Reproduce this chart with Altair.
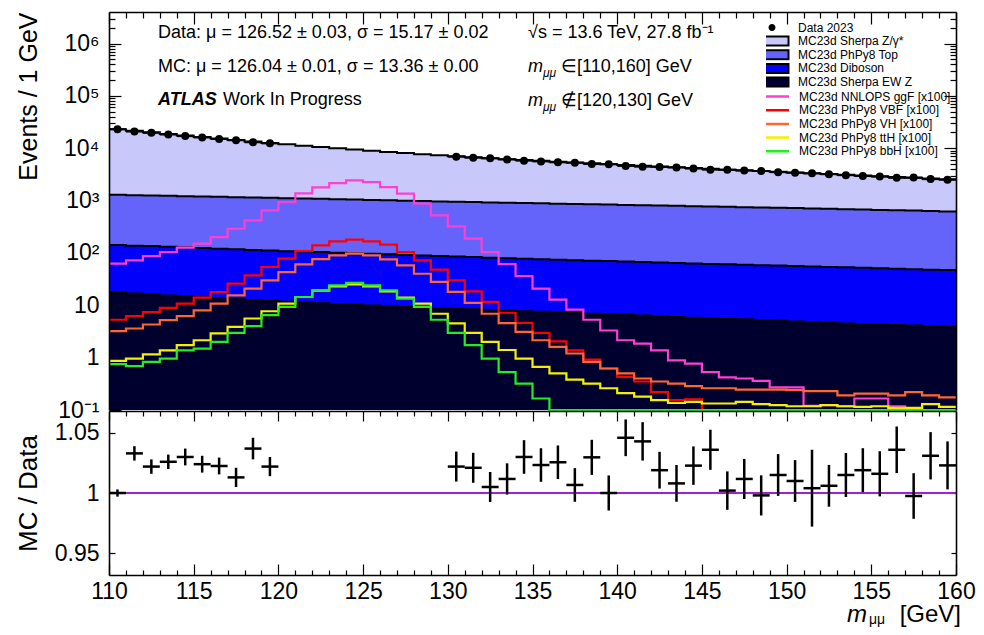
import altair as alt
import pandas as pd

# ---------------- values ----------------
bin_lo = list(range(110, 160))          # 1 GeV bins, lower edges
bin_hi_edge = 160

# background components (events / GeV), stacked bottom -> top
ewz = [17.6, 16.8, 16.1, 15.4, 14.8, 14.2, 13.6, 13.1, 12.6, 12.1,
       11.7, 11.3, 10.9, 10.5, 10.2, 9.9, 9.6, 9.3, 9.1, 8.8,
       8.6, 8.4, 8.1, 7.9, 7.7, 7.5, 7.3, 7.1, 6.9, 6.8,
       6.6, 6.4, 6.2, 6.0, 5.8, 5.7, 5.5, 5.4, 5.2, 5.1,
       4.9, 4.8, 4.7, 4.5, 4.4, 4.3, 4.2, 4.1, 4.0, 3.9]
diboson = [124, 121, 119, 116, 113, 110, 107, 104, 101, 99,
           96, 95, 93, 90.5, 88.7, 86.7, 84.6, 82.5, 80.4, 78.5,
           76.5, 74.8, 73.2, 71.5, 69.9, 68.4, 67.0, 65.7, 64.4, 63.0,
           61.8, 60.6, 59.4, 58.3, 57.2, 56.1, 55.2, 54.2, 53.3, 52.3,
           51.5, 50.4, 49.4, 48.6, 47.6, 46.8, 45.8, 44.9, 44.0, 43.1]
top = [1146, 1133, 1115, 1102, 1088, 1073, 1059, 1047, 1032, 1019,
       1006, 990, 975, 961, 946, 931, 918, 903, 890, 877,
       863, 852, 842, 831, 819, 809, 799, 788, 778, 768,
       758, 748, 738, 729, 719, 709, 699, 690, 681, 672,
       663, 653, 643, 632, 623, 613, 603, 594, 584, 575]
zgamma = [21780, 20260, 18840, 17520, 16320, 15210, 14170, 13230, 12340, 11520,
          10780, 10090, 9460, 8890, 8380, 7880, 7460, 7080, 6730, 6400,
          6100, 5820, 5540, 5280, 5060, 4850, 4650, 4460, 4290, 4130,
          3970, 3820, 3680, 3540, 3400, 3270, 3140, 3030, 2920, 2810,
          2710, 2610, 2510, 2430, 2340, 2260, 2170, 2100, 2020, 1940]

# signals (x100)
ggf = [62.5, 72, 87, 104, 126, 150, 201, 290, 419, 650,
       935, 1370, 1780, 2160, 2430, 2250, 1810, 1355, 873, 522,
       322, 187, 104, 61, 36, 20.8, 12.8, 8.3, 5.3, 3.3,
       2.15, 1.86, 1.38, 0.89, 0.77, 0.53, 0.42, 0.40, 0.36, 0.27,
       0.27, 0.12, 0.124, 0.118, 0.166, 0.166, 0.118, 0.05, 0.05, 0.05]
vbf = [5.3, 6.2, 7.4, 8.9, 10.8, 14.0, 17.9, 26, 37.4, 53.9,
       78, 109, 140, 166, 179, 166, 144, 104, 72, 48,
       30, 18.5, 11.6, 7.2, 4.6, 2.96, 2.05, 1.38, 0.92, 0.62,
       0.43, 0.35, 0.22, 0.155, 0.16, 0.05, 0.05, 0.05, 0.05, 0.05,
       0.05, 0.05, 0.05, 0.05, 0.05, 0.05, 0.05, 0.05, 0.05, 0.05]
vh = [3.2, 3.6, 4.3, 5.2, 6.2, 8.0, 10.8, 15.5, 20.8, 30,
      43, 60.5, 76, 90, 97, 90, 75.5, 58, 40, 27.9,
      18, 11.1, 6.9, 4.55, 3.1, 2.15, 1.6, 1.2, 0.83, 0.62,
      0.50, 0.40, 0.35, 0.32, 0.285, 0.26, 0.26, 0.245, 0.245, 0.245,
      0.24, 0.23, 0.23, 0.19, 0.206, 0.206, 0.19, 0.22, 0.19, 0.174]
tth = [0.865, 0.96, 1.15, 1.38, 1.73, 2.15, 2.9, 3.86, 5.6, 7.7,
       10.8, 14.4, 19, 23, 25, 23, 18.5, 14.0, 10.8, 6.9,
       4.5, 2.96, 2.0, 1.4, 0.96, 0.665, 0.50, 0.38, 0.32, 0.26,
       0.21, 0.18, 0.155, 0.136, 0.143, 0.133, 0.133, 0.143, 0.129, 0.124,
       0.118, 0.118, 0.124, 0.118, 0.115, 0.118, 0.11, 0.11, 0.129, 0.115]
bbh = [0.75, 0.69, 0.83, 0.96, 1.38, 1.49, 2.0, 2.96, 4.0, 6.5,
       9.3, 14.4, 19.3, 24, 26.7, 24, 19.3, 13.4, 9.3, 5.3,
       2.96, 1.73, 0.96, 0.53, 0.32, 0.166, 0.05, 0.05, 0.05, 0.05,
       0.05, 0.05, 0.05, 0.05, 0.05, 0.05, 0.05, 0.05, 0.05, 0.05,
       0.05, 0.05, 0.05, 0.05, 0.05, 0.05, 0.05, 0.05, 0.05, 0.05]

# data (blinded 120-130)
data_mass = [110.5, 111.5, 112.5, 113.5, 114.5, 115.5, 116.5, 117.5, 118.5, 119.5,
             130.5, 131.5, 132.5, 133.5, 134.5, 135.5, 136.5, 137.5, 138.5, 139.5,
             140.5, 141.5, 142.5, 143.5, 144.5, 145.5, 146.5, 147.5, 148.5, 149.5,
             150.5, 151.5, 152.5, 153.5, 154.5, 155.5, 156.5, 157.5, 158.5, 159.5]
data_events = [23070, 20840, 19660, 18270, 17030, 16030, 15010, 14210, 13010, 12380,
               6900, 6610, 6430, 6120, 5790, 5600, 5380, 5280, 4990, 4970,
               4590, 4440, 4400, 4300, 4090, 3900, 3890, 3740, 3670, 3490,
               3400, 3310, 3190, 3060, 2950, 2870, 2720, 2750, 2570, 2500]
ratio = [1.000, 1.033, 1.022, 1.026, 1.030, 1.024, 1.0225, 1.013, 1.037, 1.022,
         1.022, 1.021, 1.005, 1.0117, 1.030, 1.0233, 1.0256, 1.0067, 1.0297, 1.000,
         1.046, 1.043, 1.019, 1.008, 1.0228, 1.036, 1.002, 1.0117, 0.998, 1.015,
         1.010, 1.004, 1.006, 1.015, 1.019, 1.016, 1.036, 0.9975, 1.031, 1.023]
ratio_err = [0.003, 0.006, 0.006, 0.006, 0.007, 0.007, 0.007, 0.008, 0.009, 0.008,
             0.0125, 0.0125, 0.0125, 0.013, 0.014, 0.014, 0.014, 0.014, 0.0146, 0.0146,
             0.0153, 0.016, 0.0153, 0.0153, 0.016, 0.0167, 0.016, 0.0167, 0.0167, 0.0174,
             0.0174, 0.032, 0.0174, 0.0183, 0.0183, 0.0188, 0.0194, 0.019, 0.0197, 0.020]

bkg_labels = ["MC23d Sherpa Z/γ*", "MC23d PhPy8 Top", "MC23d Diboson", "MC23d Sherpa EW Z"]
bkg_colors = ["#c8c8fb", "#6464fb", "#0000fb", "#00002e"]
sig_labels = ["MC23d NNLOPS ggF [x100]", "MC23d PhPy8 VBF [x100]", "MC23d PhPy8 VH [x100]",
              "MC23d PhPy8 ttH [x100]", "MC23d PhPy8 bbH [x100]"]
sig_colors = ["#ff3fcf", "#ff0000", "#ff6633", "#f2f200", "#22ee22"]

# ---------------- layout constants ----------------
FONT = "Liberation Sans"
W = 847
HT = 398            # upper pad height
HR = 164            # ratio pad height
HALL = HT + 1 + HR  # whole plotting column
MID = HALL - HT - 1  # offset of the pad boundary from the bottom
XDOM = [110, 160]
YDOM_TOP = [0.1, 4.0e6]
YDOM_RAT = [0.9317, 1.0683]
FLOOR = 0.1
TXT = 18

edges = bin_lo + [bin_hi_edge]


def steps(vals):
    return list(vals) + [vals[-1]]


def xs():
    return alt.Scale(domain=XDOM, nice=False, zero=False)


def yst():
    return alt.Scale(type="log", domain=YDOM_TOP, range=[HT, 0], nice=False, clamp=True)


def ysr():
    return alt.Scale(domain=YDOM_RAT, range=[HALL, HT + 1], nice=False, zero=False)


# stacked background table
c1 = list(ewz)
c2 = [a + b for a, b in zip(c1, diboson)]
c3 = [a + b for a, b in zip(c2, top)]
c4 = [a + b for a, b in zip(c3, zgamma)]
floor = [FLOOR] * len(c1)
rows = []
for lab, lo, hi in [(bkg_labels[3], floor, c1), (bkg_labels[2], c1, c2),
                    (bkg_labels[1], c2, c3), (bkg_labels[0], c3, c4)]:
    for m, l, h in zip(edges, steps(lo), steps(hi)):
        rows.append({"m": m, "lo": l, "hi": h, "comp": lab})
bkg_df = pd.DataFrame(rows)

edge_rows = []
for k, arr in enumerate([c1, c2, c3, c4]):
    for m, v in zip(edges, steps(arr)):
        edge_rows.append({"m": m, "v": v, "k": k})
edge_df = pd.DataFrame(edge_rows)

sig_rows = []
for j, (lab, arr) in enumerate(zip(sig_labels, [ggf, vbf, vh, tth, bbh])):
    for m, v in zip(edges, steps(arr)):
        sig_rows.append({"m": m, "v": v, "proc": lab, "ord": j})
sig_df = pd.DataFrame(sig_rows)

data_df = pd.DataFrame({"m": data_mass, "ev": data_events,
                        "ml": [m - 0.5 for m in data_mass], "mh": [m + 0.5 for m in data_mass],
                        "lab": ["Data 2023"] * len(data_mass)})
rat_df = pd.DataFrame({"m": data_mass, "r": ratio,
                       "rl": [r - e for r, e in zip(ratio, ratio_err)],
                       "rh": [r + e for r, e in zip(ratio, ratio_err)],
                       "ml": [m - 0.5 for m in data_mass], "mh": [m + 0.5 for m in data_mass]})

dummy = pd.DataFrame({"m": [110, 160], "v": [1, 1]})

x_major = list(range(110, 161, 5))
x_minor = [v for v in range(110, 161) if v % 5]
y_major = [0.1, 1, 10, 100, 1000, 1e4, 1e5, 1e6]
y_minor = [f * 10 ** p for p in range(-1, 7) for f in range(2, 10) if f * 10 ** p < YDOM_TOP[1]]
r_major = [0.95, 1.0, 1.05]


def tick_axis(orient, values, size, offset=None, **kw):
    d = dict(orient=orient, values=values, tickSize=size,
             offset=(-size if offset is None else offset), domain=False,
             grid=False, labels=False, title=None, tickColor="black", tickWidth=1.2,
             minExtent=0)
    d.update(kw)
    return alt.Axis(**d)


def frame_axis(orient, offset=0):
    return alt.Axis(orient=orient, values=[], ticks=False, labels=False, grid=False,
                    domain=True, domainColor="black", domainWidth=1.6, offset=offset,
                    title=None, zindex=2, minExtent=0)


def carrier(yscale, xaxis, yaxis):
    return alt.Chart(dummy).mark_point(opacity=0).encode(
        x=alt.X("m:Q", scale=xs(), axis=xaxis),
        y=alt.Y("v:Q", scale=yscale(), axis=yaxis))


top_label_expr = ("datum.value < 0.5 ? '10⁻¹' : datum.value < 5 ? '1' : datum.value < 50 ? '10' : "
                  "datum.value < 500 ? '10²' : datum.value < 5000 ? '10³' : datum.value < 50000 ? '10⁴' : "
                  "datum.value < 500000 ? '10⁵' : '10⁶'")

LEG = dict(orient="none", legendX=657, title=None, symbolSize=100, labelFontSize=12,
           labelOffset=20, labelColor="black", labelFont=FONT, clipHeight=12, rowPadding=1.7)

# ---------------- axes (ROOT style: ticks inside, frame on top) ----------------
axes = [
    carrier(yst,
            tick_axis("bottom", x_major, 11, labels=True, labelFontSize=23, labelPadding=5,
                      labelFlush=False, labelOverlap=False, labelColor="black", format="d"),
            tick_axis("left", y_major, 12, labels=True, labelExpr=top_label_expr,
                      labelFontSize=23, labelPadding=10, labelOverlap=False, labelColor="black",
                      title="Events / 1 GeV", titleFontSize=25, titleFontWeight="normal",
                      titleAnchor="end", titlePadding=10, minExtent=70, maxExtent=70)),
    carrier(yst, tick_axis("bottom", x_minor, 5), tick_axis("left", y_minor, 6)),
    carrier(yst, tick_axis("top", x_major, 12), tick_axis("right", y_major, 12)),
    carrier(yst, tick_axis("top", x_minor, 6), tick_axis("right", y_minor, 6)),
    carrier(ysr, tick_axis("bottom", x_major, 10, offset=-MID),
            tick_axis("left", r_major, 6, labels=True, labelFontSize=23, labelPadding=10,
                      labelOverlap=False, labelColor="black",
                      labelExpr="datum.value > 1.02 ? '1.05' : datum.value < 0.98 ? '0.95' : '1'",
                      title="MC / Data", titleFontSize=26, titleFontWeight="normal",
                      titleAnchor="middle", titlePadding=10, minExtent=64, maxExtent=64)),
    carrier(ysr, tick_axis("bottom", x_minor, 5, offset=-MID), tick_axis("right", r_major, 5)),
]
frames = [
    carrier(yst, frame_axis("bottom"), frame_axis("left")),
    carrier(yst, frame_axis("top"), frame_axis("right")),
    carrier(ysr, frame_axis("bottom", offset=-MID), frame_axis("left")),
    carrier(ysr, None, frame_axis("right")),
]

# ---------------- upper pad content ----------------
areas = alt.Chart(bkg_df).mark_area(interpolate="step-after").encode(
    x=alt.X("m:Q", scale=xs(), axis=None),
    y=alt.Y("hi:Q", scale=yst(), axis=None, stack=None),
    y2="lo:Q",
    fill=alt.Fill("comp:N", scale=alt.Scale(domain=bkg_labels, range=bkg_colors),
                  legend=alt.Legend(legendY=23, symbolType="M-3.3,-0.9H3.3V0.9H-3.3Z",
                                    symbolStrokeColor="black", symbolStrokeWidth=2, **LEG)),
)
edge_lines = alt.Chart(edge_df).mark_line(interpolate="step-after", color="black", strokeWidth=2).encode(
    x=alt.X("m:Q", scale=xs(), axis=None),
    y=alt.Y("v:Q", scale=yst(), axis=None),
    detail="k:N")
sig_lines = alt.Chart(sig_df).mark_line(interpolate="step-after", strokeWidth=2.2).encode(
    x=alt.X("m:Q", scale=xs(), axis=None),
    y=alt.Y("v:Q", scale=yst(), axis=None),
    stroke=alt.Stroke("proc:N", scale=alt.Scale(domain=sig_labels, range=sig_colors),
                      legend=alt.Legend(legendY=78.5, symbolType="M-3.3,0H3.3",
                                        symbolStrokeWidth=2.5, **LEG)),
    order=alt.Order("ord:Q"),
)
data_bars = alt.Chart(data_df).mark_rule(color="black", strokeWidth=2).encode(
    x=alt.X("ml:Q", scale=xs(), axis=None), x2="mh:Q",
    y=alt.Y("ev:Q", scale=yst(), axis=None))
data_pts = alt.Chart(data_df).mark_point(shape="circle", filled=True, size=64, color="black").encode(
    x=alt.X("m:Q", scale=xs(), axis=None),
    y=alt.Y("ev:Q", scale=yst(), axis=None),
    opacity=alt.Opacity("lab:N", scale=alt.Scale(domain=["Data 2023"], range=[1]),
                        legend=alt.Legend(legendY=9.5,
                                          symbolType="M-3.3,0H3.3M0.7,0A0.7,0.7 0 1,1 -0.7,0A0.7,0.7 0 1,1 0.7,0",
                                          symbolFillColor="black", symbolStrokeColor="black",
                                          symbolStrokeWidth=2, **LEG)))


def label(txt, x, y, size=TXT, style="normal", weight="normal", align="left"):
    return alt.Chart(dummy).mark_text(
        text=txt, fontSize=size, fontStyle=style, fontWeight=weight, align=align,
        baseline="middle", font=FONT, color="black").encode(
        x=alt.value(x), y=alt.value(y)).transform_filter("datum.m == 110")


texts = [
    label("Data: μ = 126.52 ± 0.03, σ = 15.17 ± 0.02", 49, 21),
    label("MC: μ = 126.04 ± 0.01, σ = 13.36 ± 0.00", 49, 55),
    label("ATLAS", 49, 88, style="italic", weight="bold"),
    label("Work In Progress", 114, 88),
    label("√s = 13.6 TeV, 27.8 fb⁻¹", 419, 21),
    label("m", 419, 55, style="italic"),
    label("μμ", 434, 61, size=12, style="italic"),
    label("∈[110,160] GeV", 452, 55),
    label("m", 419, 89, style="italic"),
    label("μμ", 434, 95, size=12, style="italic"),
    label("∉[120,130] GeV", 452, 89),
    # x-axis title below the ratio pad
    label("m", 738, HALL + 40, size=24, style="italic"),
    label("μμ", 760, HALL + 45, size=14),
    label("[GeV]", 852, HALL + 40, size=24, align="right"),
]

# ---------------- ratio pad content ----------------
unity = alt.Chart(dummy).mark_rule(color="#a21fd8", strokeWidth=2).encode(
    y=alt.Y(datum=1.0, scale=ysr(), axis=None)).transform_filter("datum.m == 110")
err_v = alt.Chart(rat_df).mark_rule(color="black", strokeWidth=2.5).encode(
    x=alt.X("m:Q", scale=xs(), axis=None),
    y=alt.Y("rl:Q", scale=ysr(), axis=None), y2="rh:Q")
err_h = alt.Chart(rat_df).mark_rule(color="black", strokeWidth=2.5).encode(
    x=alt.X("ml:Q", scale=xs(), axis=None), x2="mh:Q",
    y=alt.Y("r:Q", scale=ysr(), axis=None))

chart = alt.layer(
    *axes,
    areas, edge_lines, sig_lines, data_bars, data_pts,
    unity, err_v, err_h,
    *texts,
    *frames,
).resolve_scale(y="independent").resolve_axis(x="independent", y="independent").properties(
    width=W, height=HALL,
    padding={"left": 7, "top": 3, "right": 0, "bottom": 0},
).configure_view(strokeWidth=0).configure_axis(
    labelFont=FONT, titleFont=FONT, titleColor="black", labelColor="black"
).configure_legend(padding=0)

chart.save("out.html", embed_options={"renderer": "svg", "actions": False})
